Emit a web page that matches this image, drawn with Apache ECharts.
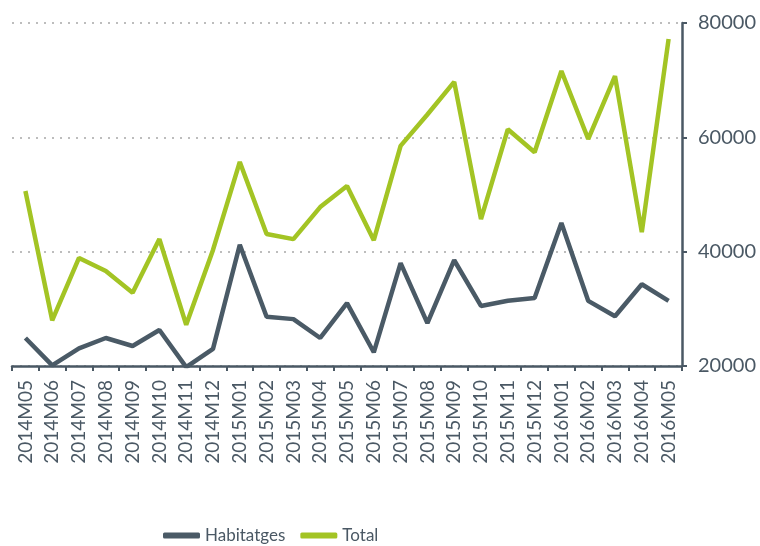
<!DOCTYPE html>
<html>
<head>
<meta charset="utf-8">
<script src="https://cdn.jsdelivr.net/npm/echarts@6/dist/echarts.min.js"></script>
<style>
  html, body { margin: 0; padding: 0; background: #fff; }
  #chart { width: 760px; height: 546px; }
</style>
</head>
<body>
<div id="chart"></div>
<script>
const months = [
  '2014M05', '2014M06', '2014M07', '2014M08', '2014M09', '2014M10', '2014M11', '2014M12',
  '2015M01', '2015M02', '2015M03', '2015M04', '2015M05', '2015M06', '2015M07', '2015M08',
  '2015M09', '2015M10', '2015M11', '2015M12', '2016M01', '2016M02', '2016M03', '2016M04', '2016M05'
]
const habitatges = [
  24900, 20100, 23100, 24900, 23500, 26300, 19800, 23000,
  41200, 28600, 28200, 24900, 31000, 22400, 38000, 27500,
  38500, 30500, 31400, 31900, 45000, 31400, 28700, 34300, 31400
]
const total = [
  50600, 28000, 38900, 36600, 32800, 42200, 27200, 40300,
  55700, 43100, 42200, 47800, 51500, 42000, 58500, 64000,
  69700, 45700, 61400, 57400, 71600, 59700, 70700, 43400, 77200
]

const axisColor = '#4a5864'
const chart = echarts.init(document.getElementById('chart'))
chart.setOption({
  animation: false,
  grid: { left: 12, right: 78, top: 23, bottom: 180 },
  legend: {
    left: 158,
    top: 522,
    itemWidth: 37,
    itemHeight: 6,
    itemGap: 15,
    icon: 'roundRect',
    textStyle: { fontFamily: 'Lato, sans-serif', fontSize: 17, color: axisColor },
    data: ['Habitatges', 'Total']
  },
  xAxis: {
    type: 'category',
    data: months,
    boundaryGap: true,
    axisLine: { lineStyle: { color: axisColor, width: 2.5 } },
    axisTick: { show: true, length: 5, lineStyle: { color: axisColor, width: 2 } },
    axisLabel: {
      rotate: 90,
      interval: 0,
      margin: 14,
      color: axisColor,
      fontFamily: 'Lato, sans-serif',
      fontSize: 19
    }
  },
  yAxis: {
    type: 'value',
    position: 'right',
    min: 20000,
    max: 80000,
    interval: 20000,
    axisLine: { show: true, lineStyle: { color: axisColor, width: 2.5 } },
    axisTick: { show: true, length: 5, lineStyle: { color: axisColor, width: 2 } },
    axisLabel: {
      margin: 16,
      color: axisColor,
      fontFamily: 'Lato, sans-serif',
      fontSize: 20,
      formatter: v => String(v)
    },
    splitLine: { lineStyle: { color: '#a8a8a8', type: [2, 6], width: 1.5 } }
  },
  series: [
    {
      name: 'Habitatges',
      type: 'line',
      data: habitatges,
      symbol: 'none',
      color: '#4a5a66',
      lineStyle: { width: 4.5, color: '#4a5a66' }
    },
    {
      name: 'Total',
      type: 'line',
      data: total,
      symbol: 'none',
      color: '#a3c424',
      lineStyle: { width: 4.5, color: '#a3c424' }
    }
  ]
})
</script>
</body>
</html>
